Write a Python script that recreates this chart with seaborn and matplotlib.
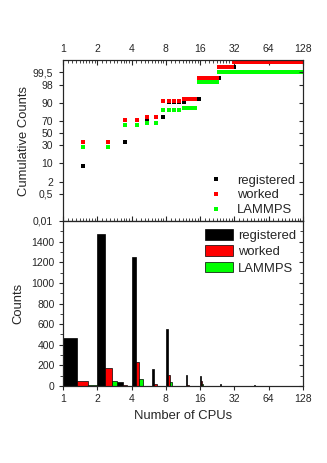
import numpy as np
import matplotlib
matplotlib.use("Agg")
import matplotlib.pyplot as plt
import seaborn as sns
from statistics import NormalDist
from matplotlib.lines import Line2D
from matplotlib.patches import Patch
from matplotlib.ticker import FixedLocator, LogLocator, NullFormatter, NullLocator

# histogram: first CPU count of each (width 1) bin and its count
reg_bins = [1, 2, 3, 4, 6, 8, 12, 16, 24, 48]
reg_counts = [465, 1470, 42, 1250, 165, 550, 105, 100, 18, 6]
work_bins = [1, 2, 3, 4, 6, 8, 12, 16]
work_counts = [51, 172, 6, 230, 22, 105, 10, 45]
lmp_bins = [1, 2, 4, 6, 8, 16]
lmp_counts = [12, 45, 65, 4, 35, 22]

# cumulative percent: bin where a new level starts, and that level
reg_cum_start = [1, 2, 4, 5, 6, 8, 12, 16, 24, 32]
reg_cum = [8, 34.5, 71, 72.5, 75, 90.8, 92.5, 99.0, 99.73, 99.86]
work_cum_start = [1, 3, 5, 7, 11, 15, 23, 31]
work_cum = [35.5, 71, 74.5, 91, 92.6, 99.0, 99.73, 99.86]
lmp_cum_start = [1, 3, 5, 7, 11, 15, 23]
lmp_cum = [28.3, 62.7, 66, 84, 86, 98.5, 99.5]

cpu_bins = np.arange(1, 128)
labels = ["registered", "worked", "LAMMPS"]
colors = ["#000000", "#ff0000", "#00ff00"]
x_ticks = [1, 2, 4, 8, 16, 32, 64, 128]
p_ticks = [0.01, 0.5, 2, 10, 30, 50, 70, 90, 98, 99.5]
p_labels = ["0,01", "0,5", "2", "10", "30", "50", "70", "90", "98", "99,5"]

nd = NormalDist()
_ppf = np.vectorize(nd.inv_cdf, otypes=[float])
_cdf = np.vectorize(nd.cdf, otypes=[float])


def prob_fwd(p):
    p = np.clip(np.asarray(p, dtype=float) / 100.0, 1e-9, 1 - 1e-9)
    return _ppf(p)


def prob_inv(z):
    return _cdf(np.asarray(z, dtype=float)) * 100.0


def levels(starts, values):
    idx = np.searchsorted(starts, cpu_bins, side="right") - 1
    return np.asarray(values)[idx]


sns.set_style("ticks")
plt.rcParams["font.family"] = ["Liberation Sans", "DejaVu Sans"]
plt.rcParams["axes.linewidth"] = 0.8

fig = plt.figure(figsize=(3.27, 4.63), dpi=100)
ax1 = fig.add_axes([63 / 327, 1 - 221 / 463, 240 / 327, 161 / 463])
ax2 = fig.add_axes([63 / 327, 1 - 386 / 463, 240 / 327, 165 / 463])

# ---- top: cumulative counts on probability scale
cum_sets = [(reg_cum_start, reg_cum), (work_cum_start, work_cum), (lmp_cum_start, lmp_cum)]
for (st, vals), col in zip(cum_sets, colors):
    sns.scatterplot(x=cpu_bins + 0.5, y=levels(st, vals), ax=ax1, color=col,
                    marker="s", s=12, linewidth=0, legend=False)

ax1.set_xscale("log", base=2)
ax1.set_xlim(1, 128)
ax1.set_yscale("function", functions=(prob_fwd, prob_inv))
ax1.set_ylim(0.01, 99.9)
ax1.xaxis.set_major_locator(FixedLocator(x_ticks))
ax1.set_xticklabels([str(v) for v in x_ticks])
ax1.xaxis.set_minor_locator(LogLocator(base=2, subs=np.arange(1.1, 2.0, 0.1), numticks=50))
ax1.xaxis.set_minor_formatter(NullFormatter())
ax1.yaxis.set_major_locator(FixedLocator(p_ticks))
ax1.set_yticklabels(p_labels)
ax1.yaxis.set_minor_locator(NullLocator())
ax1.tick_params(axis="x", which="both", top=True, bottom=True, labeltop=True,
                labelbottom=False, direction="in", pad=4)
ax1.tick_params(axis="x", which="major", length=3.5, width=0.8)
ax1.tick_params(axis="x", which="minor", length=2, width=0.6)
ax1.tick_params(axis="y", which="major", left=True, right=False, direction="out",
                length=3, width=0.8, pad=4)
ax1.tick_params(labelsize=7.5)
ax1.set_xlabel("")
ax1.set_ylabel("Cumulative Counts", fontsize=9.4, labelpad=2)

ax1r = ax1.twinx()
ax1r.set_yscale("function", functions=(prob_fwd, prob_inv))
ax1r.set_ylim(0.01, 99.9)
ax1r.yaxis.set_major_locator(FixedLocator(p_ticks))
ax1r.yaxis.set_minor_locator(NullLocator())
ax1r.tick_params(axis="y", direction="in", length=3, width=0.8, labelright=False)

h1 = [Line2D([], [], linestyle="none", marker="s", markersize=3.5, color=c, markeredgewidth=0)
      for c in colors]
ax1r.legend(h1, labels, loc="lower left", bbox_to_anchor=(0.61, 0.03), frameon=False,
            fontsize=9.4, handlelength=1.0, handletextpad=1.1, labelspacing=0.2,
            borderpad=0, borderaxespad=0)

# ---- bottom: histogram with three bars per bin
bar_sets = [(reg_bins, reg_counts), (work_bins, work_counts), (lmp_bins, lmp_counts)]
for k, ((b, c), col) in enumerate(zip(bar_sets, colors)):
    ax2.bar(np.asarray(b) + k / 3, c, width=1 / 3, align="edge", color=col,
            edgecolor="black", linewidth=0.5)

ax2.set_xscale("log", base=2)
ax2.set_xlim(1, 128)
ax2.set_ylim(0, 1600)
ax2.xaxis.set_major_locator(FixedLocator(x_ticks))
ax2.set_xticklabels([str(v) for v in x_ticks])
ax2.xaxis.set_minor_locator(NullLocator())
ax2.yaxis.set_major_locator(FixedLocator(np.arange(0, 1401, 200)))
ax2.yaxis.set_minor_locator(FixedLocator(np.arange(100, 1600, 200)))
ax2.tick_params(axis="both", which="major", direction="out", length=3, width=0.8,
                labelsize=7.5, pad=3)
ax2.tick_params(axis="y", which="minor", direction="out", length=2, width=0.6)
ax2.set_xlabel("Number of CPUs", fontsize=9.4, labelpad=4)
ax2.set_ylabel("Counts", fontsize=9.4, labelpad=5)

ax2r = ax2.twinx()
ax2r.set_ylim(0, 1600)
ax2r.yaxis.set_major_locator(FixedLocator(np.arange(0, 1601, 200)))
ax2r.yaxis.set_minor_locator(FixedLocator(np.arange(100, 1600, 200)))
ax2r.tick_params(axis="y", which="major", direction="in", length=3, width=0.8, labelright=False)
ax2r.tick_params(axis="y", which="minor", direction="in", length=2, width=0.6)

h2 = [Patch(facecolor=c, edgecolor="black", linewidth=0.5) for c in colors]
ax2r.legend(h2, labels, loc="upper left", bbox_to_anchor=(0.592, 0.95), frameon=False,
            fontsize=9.4, handlelength=2.15, handleheight=0.9, handletextpad=0.4,
            labelspacing=0.25, borderpad=0, borderaxespad=0)

fig.savefig("out.png", dpi=100)
